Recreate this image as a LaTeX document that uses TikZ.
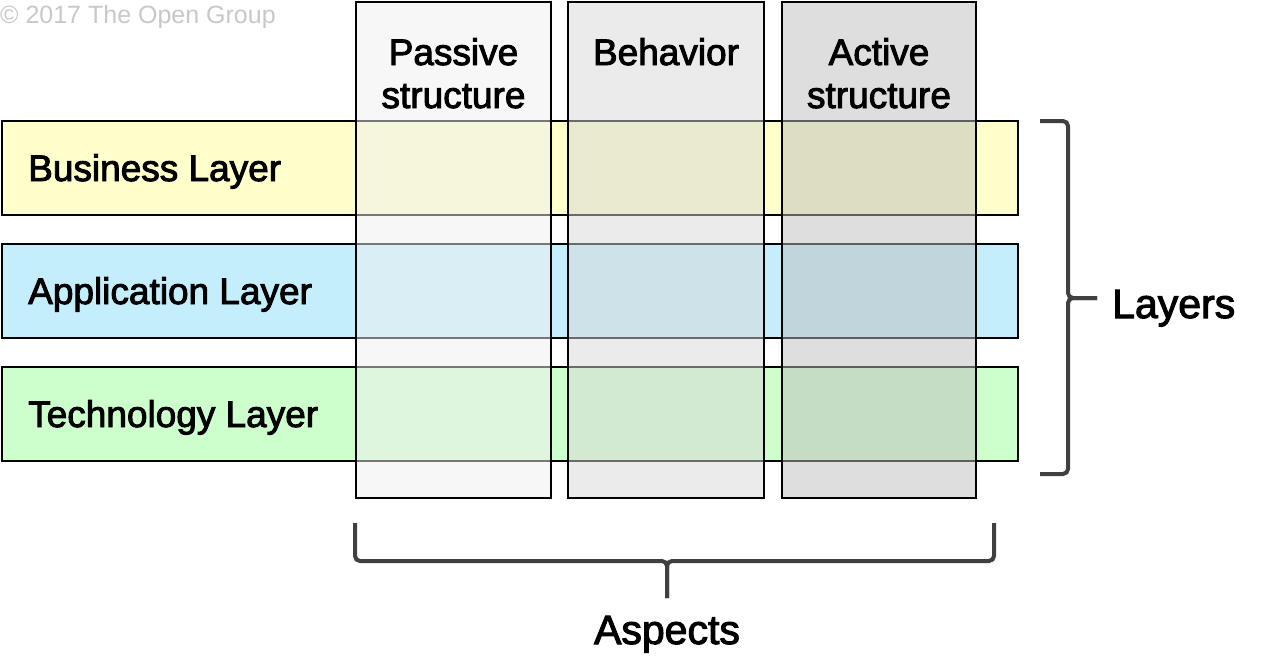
\documentclass[tikz,border=0pt]{standalone}
\usepackage{fontspec}
\setmainfont{Liberation Sans}
\newfontfamily\labelfont[FakeBold=2.5]{Liberation Sans}
\definecolor{bizfill}{RGB}{255,255,204}
\definecolor{appfill}{RGB}{196,238,252}
\definecolor{techfill}{RGB}{204,255,204}
\definecolor{passfill}{RGB}{239,239,239}
\definecolor{behfill}{RGB}{215,215,215}
\definecolor{actfill}{RGB}{189,189,189}
\definecolor{bracecol}{RGB}{64,64,64}
\definecolor{notecol}{RGB}{200,200,200}
\tikzset{
  layerbox/.style={draw=black, line width=2pt, inner sep=0pt,
    minimum width=1016pt, minimum height=94pt},
  aspectbox/.style={draw=black, line width=2pt, inner sep=0pt,
    fill opacity=0.5, minimum height=496pt},
  rowlabel/.style={anchor=base west, inner sep=0pt,
    font=\labelfont\fontsize{37}{43}\selectfont},
  headlabel/.style={anchor=base, inner sep=0pt, align=center,
    font=\labelfont\fontsize{37}{43}\selectfont},
  bracelabel/.style={inner sep=0pt, font=\labelfont\fontsize{41}{48}\selectfont},
  bracepath/.style={draw=bracecol, line width=4pt, rounded corners=5pt}
}
\begin{document}
\begin{tikzpicture}[x=1pt, y=-1pt]
\useasboundingbox (0,0) rectangle (1262,656);

% copyright notice
\node[anchor=base west, inner sep=0pt, text=notecol,
  font=\fontsize{25}{30}\selectfont] (copy) at (0,23) {© 2017 The Open Group};

% layers (rows)
\node[layerbox, fill=bizfill]  (business) at (510,168) {};
\node[layerbox, fill=appfill]  (application) at (510,291) {};
\node[layerbox, fill=techfill] (technology) at (510,414) {};

% aspects (columns), translucent over the rows
\node[aspectbox, fill=passfill, minimum width=195pt] (passive) at (453.5,250) {};
\node[aspectbox, fill=behfill,  minimum width=196pt] (behavior) at (666,250) {};
\node[aspectbox, fill=actfill,  minimum width=194pt] (active) at (879,250) {};

% row labels
\node[rowlabel] (businessl) at (28,181) {Business Layer};
\node[rowlabel] (applicationl) at (28,304) {Application Layer};
\node[rowlabel] (technologyl) at (28,427) {Technology Layer};

% column headings (two-line headings are anchored on their last line)
\node[headlabel] (passivel) at (453.5,108) {Passive\\structure};
\node[headlabel] (behaviorl) at (666,65) {Behavior};
\node[headlabel] (activel) at (879,108) {Active\\structure};

% brace grouping the layers
\coordinate (lt) at (1040,121);
\coordinate (lb) at (1040,474);
\coordinate (ltip) at (1097,298);
\draw[bracepath] (lt) -- (1068,121) -- (1068,298) -- (ltip);
\draw[bracepath] (lb) -- (1068,474) -- (1068,298) -- (ltip);
\node[bracelabel, anchor=base west] (layers) at (1112,318) {Layers};

% brace grouping the aspects
\coordinate (al) at (355,523);
\coordinate (ar) at (994,523);
\coordinate (atip) at (667,598);
\draw[bracepath] (al) -- (355,561) -- (667,561) -- (atip);
\draw[bracepath] (ar) -- (994,561) -- (667,561) -- (atip);
\node[bracelabel, anchor=base] (aspects) at (667,644) {Aspects};
\end{tikzpicture}
\end{document}
